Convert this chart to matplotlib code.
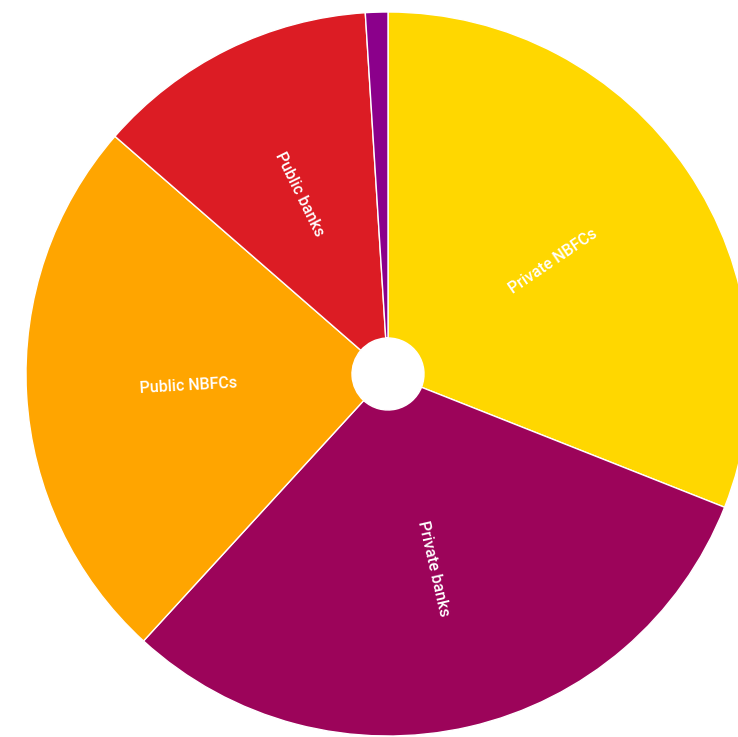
import numpy as np
import matplotlib.pyplot as plt

categories = ["Private NBFCs", "Private banks", "Public NBFCs", "Public banks", "Others"]
shares = [31.0, 30.8, 24.6, 12.6, 1.0]
colors = ["#FFD700", "#9C045A", "#FFA500", "#DC1C24", "#8B008B"]
show_label = [True, True, True, True, False]

W, H = 738, 737
fig = plt.figure(figsize=(W / 100, H / 100), dpi=100)
ax = fig.add_axes([0, 0, 1, 1])

cx, cy, R, hole = 388, H - 374, 362, 36
wedges, _ = ax.pie(shares, colors=colors, startangle=90, counterclock=False,
                   center=(cx, cy), radius=R,
                   wedgeprops=dict(width=R - hole, edgecolor="white", linewidth=1))

for w, name, show in zip(wedges, categories, show_label):
    if not show:
        continue
    mid = (w.theta1 + w.theta2) / 2
    r = 0.553 * R
    x = cx + r * np.cos(np.radians(mid))
    y = cy + r * np.sin(np.radians(mid))
    rot = mid % 360
    if 90 < rot <= 270:
        rot -= 180
    elif rot > 270:
        rot -= 360
    ax.text(x, y, name, rotation=rot, rotation_mode="anchor", ha="center", va="center",
            color="white", fontsize=11.5, fontfamily="Roboto", fontweight="medium")

ax.set_xlim(0, W)
ax.set_ylim(0, H)
ax.set_aspect("equal")
ax.axis("off")
fig.savefig("out.png", dpi=100)
